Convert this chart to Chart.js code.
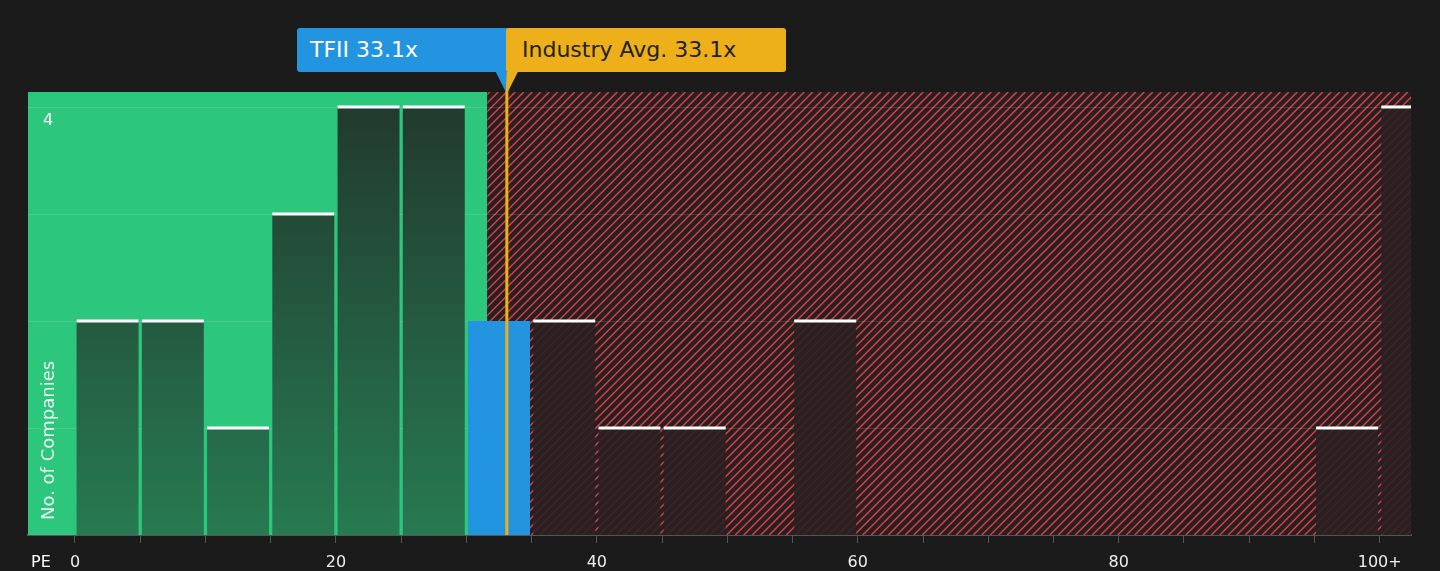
<!DOCTYPE html>
<html>
<head>
<meta charset="utf-8">
<script src="https://cdn.jsdelivr.net/npm/chart.js@4"></script>
<style>
  body { margin: 0; background: #1b1b1b; }
  #wrap { position: relative; width: 1440px; height: 571px; }
  .tag { position: absolute; top: 28px; height: 44px; line-height: 44px; font-family: "DejaVu Sans"; font-size: 22px; border-radius: 3px; padding-left: 13px; box-sizing: border-box; }
</style>
</head>
<body>
<div id="wrap">
  <canvas id="myChart" width="1440" height="571"></canvas>
  <div class="tag" style="left:297px;width:215px;background:#2394e0;color:#fff">TFII 33.1x</div>
  <div class="tag" style="left:506px;width:280px;background:#edb01b;color:#222;padding-left:16px">Industry Avg. 33.1x</div>
</div>
<script>
const binStarts = [0, 5, 10, 15, 20, 25, 30, 35, 40, 45, 50, 55, 60, 65, 70, 75, 80, 85, 90, 95, 100];
const companies = [2, 2, 1, 3, 4, 4, 2, 2, 1, 1, 0, 2, 0, 0, 0, 0, 0, 0, 0, 1, 4];
const tickLabels = { 0: '0', 20: '20', 40: '40', 60: '60', 80: '80', 100: '100+' };
const companyPE = 33.1;
const industryAvg = 33.1;
const fairLimit = 31.6;

const puntos = binStarts.map((b, i) => ({ x: b + 2.5, y: companies[i] }));

const fondo = {
  id: 'fondo',
  beforeDatasetsDraw(chart) {
    const { ctx, chartArea: a, scales: { x, y } } = chart;
    const xf = x.getPixelForValue(fairLimit);
    ctx.save();
    ctx.fillStyle = '#2dc67d';
    ctx.fillRect(a.left, a.top, xf - a.left, a.bottom - a.top);
    ctx.fillStyle = '#2a1f20';
    ctx.fillRect(xf, a.top, a.right - xf, a.bottom - a.top);
    ctx.beginPath();
    ctx.rect(xf, a.top, a.right - xf, a.bottom - a.top);
    ctx.clip();
    ctx.strokeStyle = '#d0444a';
    ctx.lineWidth = 1.5;
    for (let s = xf - 500; s < a.right + 10; s += 8.5) {
      ctx.beginPath();
      ctx.moveTo(s, a.bottom);
      ctx.lineTo(s + (a.bottom - a.top), a.top);
      ctx.stroke();
    }
    ctx.restore();
    ctx.save();
    ctx.strokeStyle = 'rgba(255,255,255,0.12)';
    ctx.lineWidth = 1;
    [1, 2, 3, 4].forEach((v) => {
      const py = Math.round(y.getPixelForValue(v)) + 0.5;
      ctx.beginPath(); ctx.moveTo(a.left, py); ctx.lineTo(a.right, py); ctx.stroke();
    });
    ctx.restore();
  },
  afterDatasetsDraw(chart) {
    const { ctx, chartArea: a, scales: { x, y } } = chart;
    ctx.save();
    ctx.beginPath(); ctx.rect(a.left, a.top - 5, a.right - a.left, a.bottom - a.top + 5); ctx.clip();
    chart.getDatasetMeta(0).data.forEach((bar, i) => {
      if (!companies[i] || binStarts[i] === 30) return;
      ctx.fillStyle = '#fff';
      ctx.fillRect(bar.x - bar.width / 2, bar.y - 1.5, bar.width, 3);
    });
    ctx.restore();
    const xo = x.getPixelForValue(industryAvg);
    ctx.save();
    ctx.fillStyle = '#edb01b';
    ctx.fillRect(xo - 1.5, 70, 3, a.bottom - 70);
    ctx.beginPath(); ctx.moveTo(xo - 1, 70); ctx.lineTo(xo + 12, 70); ctx.lineTo(xo + 1, 92); ctx.fill();
    ctx.fillStyle = '#2394e0';
    ctx.beginPath(); ctx.moveTo(xo - 12, 70); ctx.lineTo(xo, 70); ctx.lineTo(xo - 1, 92); ctx.fill();
    ctx.fillStyle = '#fff';
    ctx.font = '16px "DejaVu Sans"';
    ctx.textAlign = 'left'; ctx.textBaseline = 'middle';
    ctx.fillText('4', 43, 121);
    ctx.fillText('PE', 31, 563);
    ctx.translate(49, 520);
    ctx.rotate(-Math.PI / 2);
    ctx.font = '18px "DejaVu Sans"';
    ctx.fillStyle = '#e8f5ee';
    ctx.fillText('No. of Companies', 0, 0);
    ctx.restore();
  }
};

new Chart(document.getElementById('myChart'), {
  type: 'bar',
  data: {
    datasets: [{
      data: puntos,
      barPercentage: 0.95,
      categoryPercentage: 1,
      backgroundColor: (c) => {
        const i = c.dataIndex;
        if (binStarts[i] === 30) return '#2394e0';
        const area = c.chart.chartArea;
        if (!area) return '#244d3a';
        if (binStarts[i] >= 35) return 'rgba(42,32,33,0.88)';
        const g = c.chart.ctx.createLinearGradient(0, area.top, 0, area.bottom);
        g.addColorStop(0, '#21382d');
        g.addColorStop(1, '#277a52');
        return g;
      }
    }]
  },
  options: {
    responsive: false,
    animation: false,
    layout: { padding: { left: 28, right: 29, top: 92, bottom: 0 } },
    plugins: { legend: { display: false }, tooltip: { enabled: false } },
    scales: {
      x: {
        type: 'linear',
        offset: false,
        min: -3.6,
        max: 102.4,
        afterFit: (s) => { s.height = 36; },
        afterBuildTicks: (s) => { s.ticks = binStarts.map((v) => ({ value: v })); },
        ticks: {
          color: '#eee',
          font: { size: 16, family: 'DejaVu Sans' },
          maxRotation: 0,
          autoSkip: false,
          padding: 10,
          callback: (v) => tickLabels[v] || ''
        },
        grid: { drawOnChartArea: false, color: '#555', tickLength: 8, offset: false },
        border: { color: '#555', width: 2 }
      },
      y: { display: false, min: 0, max: 4.14 }
    }
  },
  plugins: [fondo]
});
</script>
</body>
</html>
